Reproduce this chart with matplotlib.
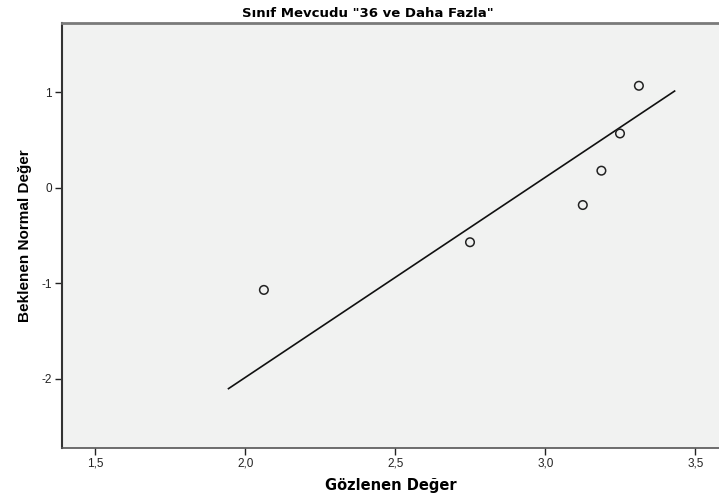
import matplotlib
matplotlib.use("Agg")
import matplotlib.pyplot as plt
from matplotlib.ticker import FuncFormatter

# observed values and expected normal quantiles
gozlenen = [2.062, 2.749, 3.125, 3.187, 3.249, 3.312]
beklenen = [-1.07, -0.57, -0.18, 0.18, 0.57, 1.07]

# reference line end points (observed axis)
line_x = [1.944, 3.431]

x_ticks = [1.5, 2.0, 2.5, 3.0, 3.5]
y_ticks = [-2, -1, 0, 1]

plt.rcParams['font.family'] = ['Liberation Sans', 'DejaVu Sans']

fig = plt.figure(figsize=(7.19, 4.97), dpi=100)
ax = fig.add_axes([0.0858, 0.0992, 1.0 - 0.0858, 0.9537 - 0.0992])
ax.set_facecolor('#f1f2f1')

# expected normal line from mean and sd of the data
n = len(gozlenen)
mean = sum(gozlenen) / n
sd = (sum((v - mean) ** 2 for v in gozlenen) / (n - 1)) ** 0.5
line_y = [(v - mean) / sd for v in line_x]
ax.plot(line_x, line_y, color='#111111', linewidth=1.2)

ax.scatter(gozlenen, beklenen, s=38, facecolors='none', edgecolors='#222222',
           linewidths=1.1, zorder=3)

ax.set_xlim(1.388, 3.579)
ax.set_ylim(-2.724, 1.728)
ax.set_xticks(x_ticks)
ax.set_yticks(y_ticks)
ax.xaxis.set_major_formatter(FuncFormatter(lambda v, p: f"{v:.1f}".replace('.', ',')))
ax.yaxis.set_major_formatter(FuncFormatter(lambda v, p: f"{int(v)}"))
ax.tick_params(labelsize=8.5, length=5, width=1, colors='#222222', pad=2)

ax.spines['right'].set_visible(False)
ax.spines['top'].set_color('#7a7a7a')
ax.spines['top'].set_linewidth(2)
ax.spines['left'].set_color('#333333')
ax.spines['left'].set_linewidth(1.5)
ax.spines['bottom'].set_color('#555555')
ax.spines['bottom'].set_linewidth(1.2)

ax.set_xlabel('Gözlenen Değer', fontsize=10.5, fontweight='bold', labelpad=6,
              family=['DejaVu Sans'])
ax.set_ylabel('Beklenen Normal Değer', fontsize=11, fontweight='bold', labelpad=7)

fig.text(0.511, 0.972, 'Sınıf Mevcudu "36 ve Daha Fazla"', ha='center', va='center',
         fontsize=9.5, fontweight='bold', family=['DejaVu Sans'])

fig.savefig('out.png', dpi=100)
